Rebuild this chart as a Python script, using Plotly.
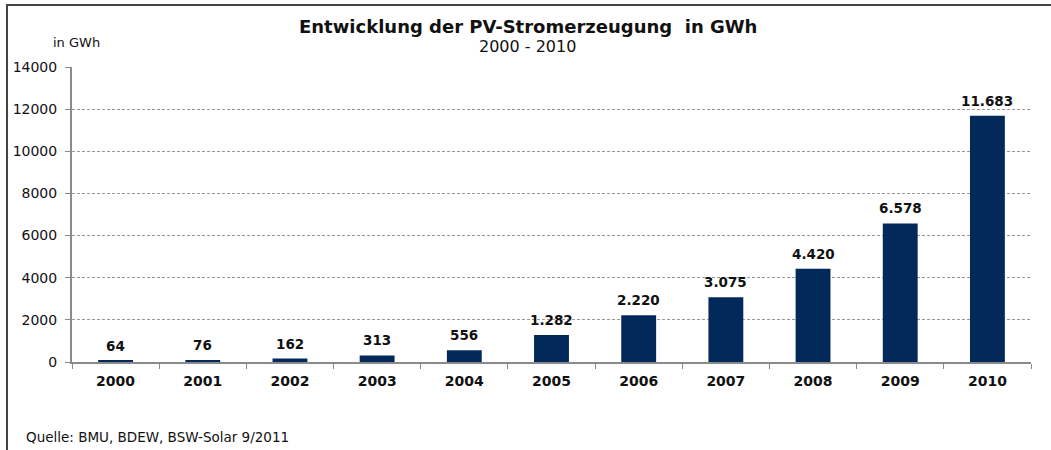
import plotly.graph_objects as go

years = ["2000", "2001", "2002", "2003", "2004", "2005", "2006", "2007", "2008", "2009", "2010"]
values = [64, 76, 162, 313, 556, 1282, 2220, 3075, 4420, 6578, 11683]
y_ticks = [0, 2000, 4000, 6000, 8000, 10000, 12000, 14000]

labels = [f"{v:,}".replace(",", ".") for v in values]

FONT = "DejaVu Sans"
fig = go.Figure(go.Bar(
    x=years, y=values,
    marker=dict(color="#02295a", line=dict(width=0)),
    hoverinfo="x+y",
))

L, R, T, B = 72, 20, 67, 88
W, H = 1051, 450
pw, ph = W - L - R, H - T - B

def px_x(p):
    return (p - L) / pw

def px_y(p):
    return (H - B - p) / ph

# value labels above bars (category index positions on the category axis)
annotations = [
    dict(x=i, y=v, xref="x", yref="y", text=f"<b>{lab}</b>", showarrow=False,
         yanchor="bottom", xanchor="center", yshift=5,
         font=dict(family=FONT, size=13.5, color="#111"))
    for i, (v, lab) in enumerate(zip(values, labels))
]
annotations += [
    dict(text="<b>Entwicklung der PV-Stromerzeugung \u00a0in GWh</b>", xref="paper", yref="paper",
         x=px_x(528), y=px_y(27), xanchor="center", yanchor="middle", showarrow=False,
         font=dict(family=FONT, size=18, color="#111")),
    dict(text="2000 - 2010", xref="paper", yref="paper",
         x=px_x(527), y=px_y(46), xanchor="center", yanchor="middle", showarrow=False,
         font=dict(family=FONT, size=16, color="#111")),
    dict(text="in GWh", xref="paper", yref="paper",
         x=px_x(51), y=px_y(42), xanchor="left", yanchor="middle", showarrow=False,
         font=dict(family=FONT, size=13, color="#111")),
    dict(text="Quelle: BMU, BDEW, BSW-Solar 9/2011", xref="paper", yref="paper",
         x=px_x(24), y=px_y(437), xanchor="left", yanchor="middle", showarrow=False,
         font=dict(family=FONT, size=13.5, color="#111")),
]

fig.update_layout(
    width=W, height=H,
    margin=dict(l=L, r=R, t=T, b=B, autoexpand=False),
    paper_bgcolor="white", plot_bgcolor="white",
    bargap=0.6,
    showlegend=False,
    font=dict(family=FONT, color="#111"),
    xaxis=dict(
        type="category", range=[-0.5, len(years) - 0.5],
        showline=True, linecolor="#8a8a8a", linewidth=2,
        ticks="outside", tickson="boundaries", ticklen=5, tickcolor="#8a8a8a",
        tickfont=dict(family=FONT, size=14, color="#111", weight="bold"),
        ticklabelstandoff=5,
        showgrid=False,
    ),
    yaxis=dict(
        range=[0, 14000], tickvals=y_ticks, tickformat="d",
        showline=True, linecolor="#8a8a8a", linewidth=2,
        ticks="outside", ticklen=5, tickcolor="#8a8a8a",
        tickfont=dict(family=FONT, size=14, color="#111"),
        ticklabelstandoff=5,
        showgrid=True, gridcolor="#9a9a9a", griddash="3px,2px", gridwidth=1,
        zeroline=False,
    ),
    annotations=annotations,
    shapes=[
        dict(type="rect", xref="paper", yref="paper",
             x0=px_x(7), x1=px_x(1080), y0=px_y(480), y1=px_y(5),
             line=dict(color="#444", width=2), fillcolor="rgba(0,0,0,0)", layer="above"),
    ],
)

fig.write_html("out.html", config={"displayModeBar": False},
               post_script="document.body.style.margin='0';document.body.style.overflow='hidden';")
